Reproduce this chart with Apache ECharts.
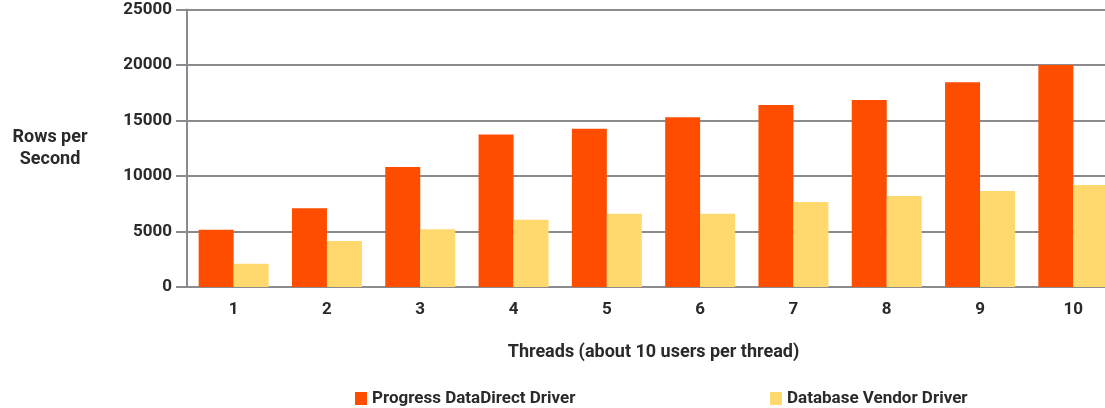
<!DOCTYPE html>
<html>
<head>
<meta charset="utf-8">
<script src="https://cdn.jsdelivr.net/npm/echarts@6/dist/echarts.min.js"></script>
<style>
html,body{margin:0;padding:0;background:#fff;overflow:hidden;width:1105px;height:408px;}
#chart{width:1120px;height:408px;}
</style>
</head>
<body>
<div id="chart"></div>
<script>
var categories = ['1','2','3','4','5','6','7','8','9','10'];
var progressValues = [5150, 7100, 10800, 13750, 14250, 15300, 16400, 16850, 18450, 20000];
var vendorValues = [2100, 4150, 5200, 6050, 6600, 6600, 7650, 8200, 8650, 9200];
var seriesNames = ['Progress DataDirect Driver', 'Database Vendor Driver'];
var xAxisTitle = 'Threads (about 10 users per thread)';
var yAxisTitle = 'Rows per\nSecond';

var FONT = 'Roboto, "Noto Sans", sans-serif';
var TXT = '#2a2a2a';
var GRID = '#8b8b8f';

var chart = echarts.init(document.getElementById('chart'));
chart.setOption({
  animation: false,
  backgroundColor: '#ffffff',
  textStyle: {fontFamily: FONT},
  graphic: [{
    type: 'text',
    x: 50, y: 148,
    style: {
      text: yAxisTitle,
      align: 'center', verticalAlign: 'middle',
      font: 'bold 18px ' + FONT,
      lineHeight: 22,
      fill: TXT
    }
  }],
  legend: [{
    data: [seriesNames[0]],
    left: 350, top: 385,
    itemWidth: 12, itemHeight: 13, icon: 'rect', itemGap: 0,
    textStyle: {fontFamily: FONT, fontWeight: 'bold', fontSize: 17, color: TXT}
  }, {
    data: [seriesNames[1]],
    left: 765, top: 385,
    itemWidth: 12, itemHeight: 13, icon: 'rect', itemGap: 0,
    textStyle: {fontFamily: FONT, fontWeight: 'bold', fontSize: 17, color: TXT}
  }],
  grid: {left: 187, right: 0, top: 9.5, bottom: 121, containLabel: false},
  xAxis: {
    type: 'category',
    data: categories,
    name: xAxisTitle,
    nameLocation: 'middle',
    nameGap: 56,
    nameTextStyle: {fontFamily: FONT, fontWeight: 'bold', fontSize: 18, color: TXT, verticalAlign: 'top'},
    axisLine: {show: true, lineStyle: {color: GRID, width: 2}},
    axisTick: {show: false},
    axisLabel: {fontFamily: FONT, fontWeight: 'bold', fontSize: 17, color: TXT, margin: 14}
  },
  yAxis: {
    type: 'value',
    min: 0, max: 25000, interval: 5000,
    axisLine: {show: true, lineStyle: {color: GRID, width: 2}},
    axisTick: {show: true, length: 11, lineStyle: {color: GRID, width: 2}},
    splitLine: {show: true, lineStyle: {color: GRID, width: 2}},
    axisLabel: {
      fontFamily: FONT, fontWeight: 'bold', fontSize: 17, color: TXT, margin: 15, padding: [8, 0, 0, 0],
      formatter: function (v) { return String(v); }
    }
  },
  series: [{
    name: seriesNames[0],
    type: 'bar',
    data: progressValues,
    barGap: '0%',
    barCategoryGap: '25%',
    itemStyle: {color: '#FF4D00'}
  }, {
    name: seriesNames[1],
    type: 'bar',
    data: vendorValues,
    barGap: '0%',
    barCategoryGap: '25%',
    itemStyle: {color: '#FFD86E'}
  }]
});
</script>
</body>
</html>
